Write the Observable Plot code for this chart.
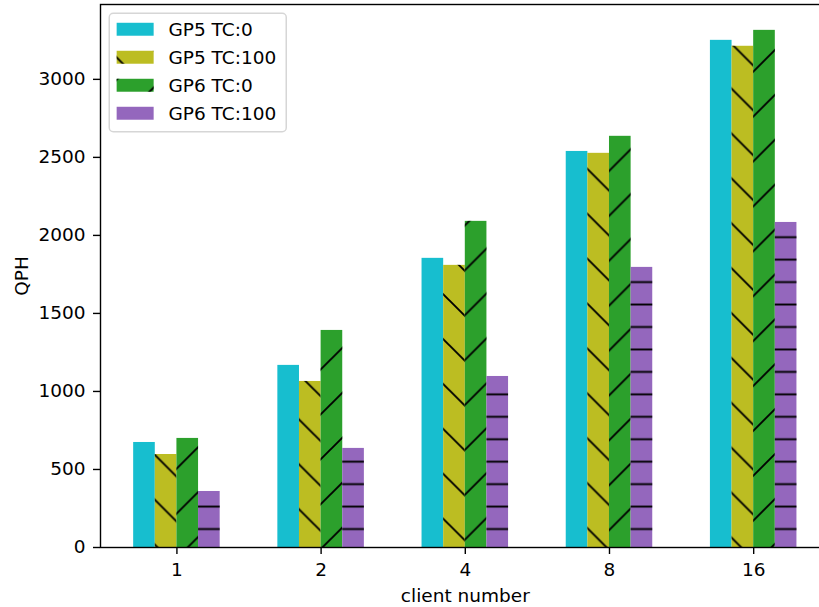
<!DOCTYPE html>
<html>
<head>
<meta charset="utf-8">
<script src="https://cdn.jsdelivr.net/npm/d3@7"></script>
<script src="https://cdn.jsdelivr.net/npm/@observablehq/plot@0.6"></script>
<style>
  html, body { margin: 0; padding: 0; background: #fff; }
  #wrap { width: 819px; height: 607px; overflow: hidden; position: relative; }
  #wrap svg { display: block; max-width: none !important; }
</style>
</head>
<body>
<svg width="0" height="0" style="position:absolute">
  <defs id="hatchdefs"></defs>
</svg>
<div id="wrap"></div>
<script>
// ---- data ----
const clients = ["1", "2", "4", "8", "16"];
const series = ["GP5 TC:0", "GP5 TC:100", "GP6 TC:0", "GP6 TC:100"];
const gp5tc0   = [673, 1167, 1853, 2538, 3250];
const gp5tc100 = [596, 1064, 1808, 2526, 3212];
const gp6tc0   = [699, 1391, 2090, 2635, 3314];
const gp6tc100 = [359,  635, 1096, 1795, 2083];
const yTicks = [0, 500, 1000, 1500, 2000, 2500, 3000];

// ---- styles ----
const colors  = ["#17becf", "#bcbd22", "#2ca02c", "#9467bd"];
const hatches = ["", "\\", "/", "-"];
const fontSize = 18.5;
const font = "DejaVu Sans";

// hatch patterns (user-space, like matplotlib's figure-anchored hatches)
const P = 44.9;       // diagonal period
const H = P / 2;      // horizontal-line period
const defs = d3.select("#hatchdefs");
function addPattern(id, kind) {
  const p = defs.append("pattern").attr("id", id).attr("patternUnits", "userSpaceOnUse");
  let d;
  if (kind === "/") {
    p.attr("x", 16.7).attr("y", 0).attr("width", P).attr("height", P);
    d = `M0,${P}L${P},0M${-P/4},${P/4}L${P/4},${-P/4}M${3*P/4},${5*P/4}L${5*P/4},${3*P/4}`;
  } else if (kind === "\\") {
    p.attr("x", 0).attr("y", 30.6).attr("width", P).attr("height", P);
    d = `M0,0L${P},${P}M${-P/4},${3*P/4}L${P/4},${5*P/4}M${3*P/4},${-P/4}L${5*P/4},${P/4}`;
  } else {
    p.attr("x", 0).attr("y", 12.7 - H / 2).attr("width", 10).attr("height", H);
    d = `M-1,${H/2}L11,${H/2}`;
  }
  p.append("path").attr("d", d).attr("stroke", "#000").attr("stroke-width", 1.9).attr("fill", "none");
}
hatches.forEach((h, j) => { if (h) addPattern(`hatch-${j}`, h); });

// ---- table ----
const valuesBySeries = [gp5tc0, gp5tc100, gp6tc0, gp6tc100];
const rows = [];
clients.forEach((c, i) => valuesBySeries.forEach((arr, j) =>
  rows.push({i, j, client: c, series: series[j], value: arr[i]})));

const barW = 0.15;
const nS = series.length;
const x1 = d => d.i + (d.j - nS / 2) * barW;
const x2 = d => d.i + (d.j - nS / 2 + 1) * barW;
const lo = -nS / 2 * barW, hi = clients.length - 1 + nS / 2 * barW;
const pad = 0.05 * (hi - lo);
const ymax = d3.max(rows, d => d.value) * 1.05;

const marks = [];
series.forEach((s, j) => {
  const data = rows.filter(d => d.j === j);
  marks.push(Plot.rect(data, {x1, x2, y1: 0, y2: "value", fill: colors[j]}));
  if (hatches[j]) marks.push(Plot.rect(data, {x1, x2, y1: 0, y2: "value", fill: `url(#hatch-${j})`}));
});

const chart = Plot.plot({
  width: 830,
  height: 607,
  marginLeft: 100,
  marginRight: 0.4,
  marginTop: 4,
  marginBottom: 60,
  style: {fontFamily: font, fontSize: fontSize + "px", color: "#000", background: "#fff", maxWidth: "none"},
  x: {domain: [lo - pad, hi + pad]},
  y: {domain: [0, ymax]},
  marks: [
    ...marks,
    Plot.axisX({ticks: d3.range(clients.length), tickFormat: i => clients[i], tickSize: 7, tickPadding: 8,
      strokeWidth: 1.4, label: "client number", labelAnchor: "center", labelOffset: 54, labelArrow: false}),
    Plot.axisY({ticks: yTicks, tickFormat: d => String(d), tickSize: 7, tickPadding: 8,
      strokeWidth: 1.4, label: "QPH", labelAnchor: "center", labelOffset: 86, labelArrow: false}),
    Plot.frame({stroke: "#000", strokeWidth: 1.4})
  ]
});
document.getElementById("wrap").appendChild(chart);

// ---- legend (inside the axes, upper left) ----
const svg = d3.select(chart);
const em = fontSize;
const lgX = 100 + 0.5 * em, lgY = 4 + 0.5 * em;
const rowStep = 28;
const lg = svg.append("g").attr("font-family", font).attr("font-size", em + "px").attr("text-anchor", "start");
lg.append("rect")
  .attr("x", lgX).attr("y", lgY).attr("width", 177).attr("height", 118.4)
  .attr("rx", 4).attr("fill", "#fff").attr("fill-opacity", 0.8)
  .attr("stroke", "#d6d6d6").attr("stroke-width", 1.5);
series.forEach((s, j) => {
  const cy = lgY + 16 + j * rowStep;
  const hx = lgX + 0.4 * em;
  lg.append("rect").attr("x", hx).attr("y", cy - 0.35 * em)
    .attr("width", 2 * em).attr("height", 0.7 * em).attr("fill", colors[j]);
  if (hatches[j]) lg.append("rect").attr("x", hx).attr("y", cy - 0.35 * em)
    .attr("width", 2 * em).attr("height", 0.7 * em).attr("fill", `url(#hatch-${j})`);
  lg.append("text").attr("x", hx + 2.8 * em).attr("y", cy + 0.365 * em)
    .attr("text-anchor", "start").attr("fill", "#000").text(s);
});
</script>
</body>
</html>
